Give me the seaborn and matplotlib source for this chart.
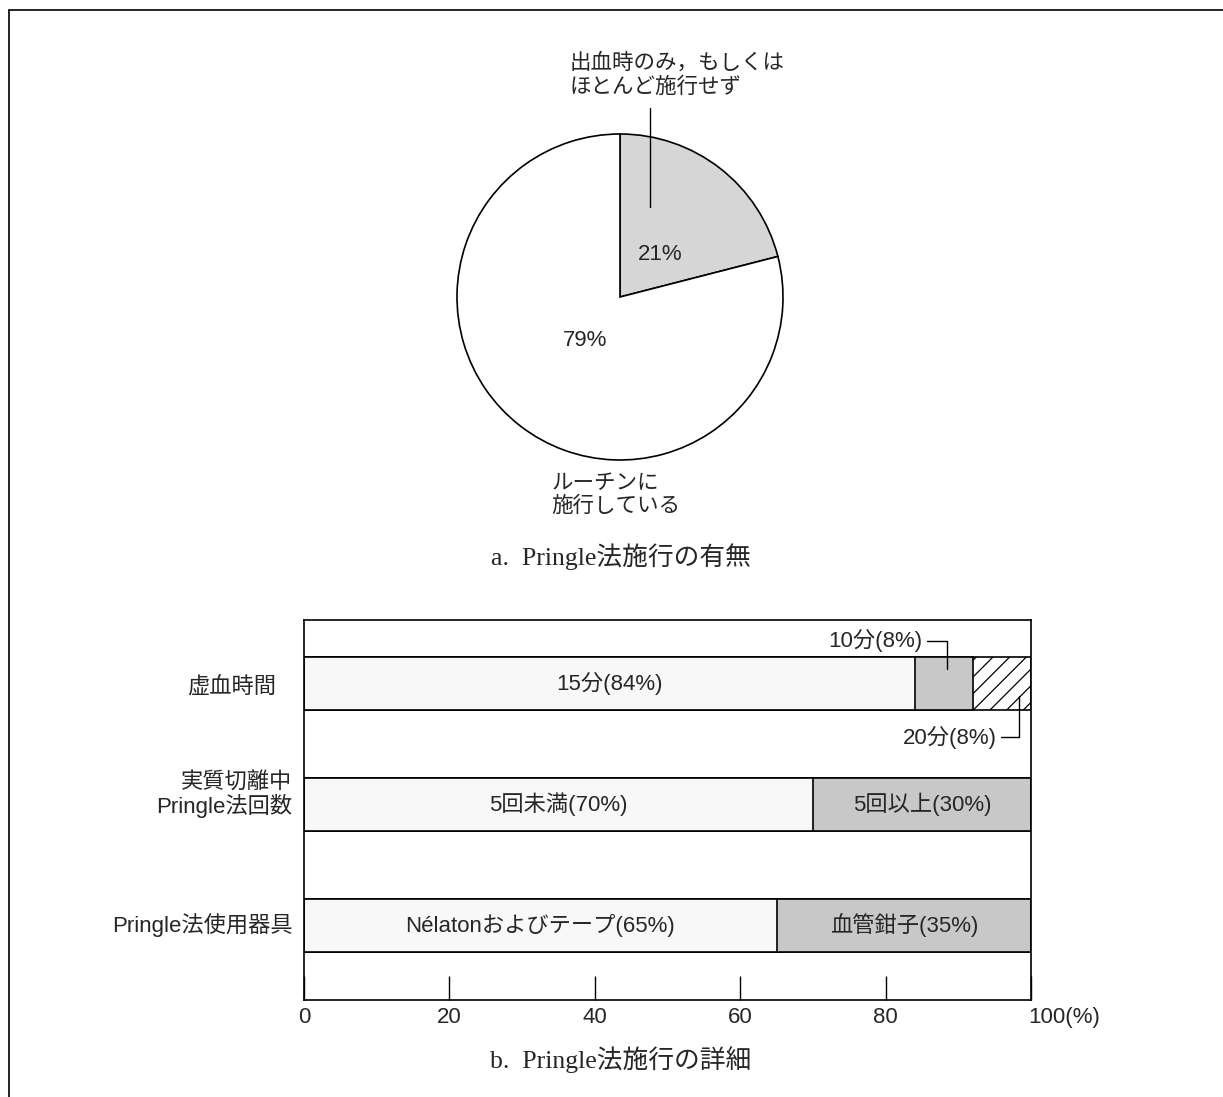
import matplotlib
matplotlib.use("Agg")
import matplotlib.pyplot as plt
from matplotlib.lines import Line2D
from matplotlib.transforms import ScaledTranslation
import seaborn as sns
import pandas as pd

sns.set_theme(style="white")
plt.rcParams['font.family'] = ['Liberation Sans', 'Noto Sans CJK JP', 'DejaVu Sans']
plt.rcParams['hatch.linewidth'] = 0.9
plt.rcParams['hatch.color'] = 'black'

# ---- data ----
pie_labels = ['出血時のみ，もしくは\nほとんど施行せず', 'ルーチンに\n施行している']
pie_values = [21, 79]

bar_categories = ['虚血時間', '実質切離中\nPringle法回数', 'Pringle法使用器具']
seg1_values = [84, 70, 65]
seg2_values = [8, 30, 35]
seg3_values = [8, 0, 0]
seg1_labels = ['15分(84%)', '5回未満(70%)', 'Nélatonおよびテープ(65%)']
seg2_labels = ['10分(8%)', '5回以上(30%)', '血管鉗子(35%)']
seg3_labels = ['20分(8%)', '', '']
x_ticks = [0, 20, 40, 60, 80, 100]
x_ticklabels = ['0', '20', '40', '60', '80', '100(%)']

W, H = 1223, 1097
fig = plt.figure(figsize=(W / 100, H / 100), dpi=100)
fig.patch.set_facecolor('white')

# outer frame (top and left edges)
fig.add_artist(Line2D([9 / W, 1.0], [1 - 10 / H, 1 - 10 / H], color='black', lw=1.2))
fig.add_artist(Line2D([9 / W, 9 / W], [1 - 10 / H, 0.0], color='black', lw=1.2))

serif_cjk = ['Liberation Serif', 'Noto Sans CJK JP']
LBL = 16

# ---- a. pie ----
cx, cy, r = 620, 297, 163
ax_pie = fig.add_axes([(cx - r) / W, 1 - (cy + r) / H, 2 * r / W, 2 * r / H])
ax_pie.pie(pie_values, startangle=90, counterclock=False,
           colors=['#d6d6d6', 'white'],
           wedgeprops=dict(edgecolor='black', linewidth=1.2))
ax_pie.set_xlim(-1, 1)
ax_pie.set_ylim(-1, 1)
ax_pie.set_aspect('equal')
ax_pie.axis('off')
ax_pie.text(0.245, 0.26, f'{pie_values[0]}%', ha='center', va='center', fontsize=16)
ax_pie.text(-0.215, -0.264, f'{pie_values[1]}%', ha='center', va='center', fontsize=16)
ax_pie.text(-0.31, 1.36, pie_labels[0], ha='left', va='center', fontsize=15.5,
            linespacing=1.15, clip_on=False)
ax_pie.plot([0.184, 0.184], [1.16, 0.55], color='black', lw=1.0, clip_on=False)
ax_pie.text(-0.42, -1.215, pie_labels[1], ha='left', va='center', fontsize=15.5,
            linespacing=1.15, clip_on=False)
fig.text(621 / W, 1 - 557 / H, 'a.  Pringle法施行の有無', ha='center', va='center',
         fontsize=18.5, family=serif_cjk)

# ---- b. stacked bars ----
left, right, top, bottom = 304, 1031, 620, 1000
ax = fig.add_axes([left / W, 1 - bottom / H, (right - left) / W, (bottom - top) / H])

df = pd.DataFrame({'cat': bar_categories, 's1': seg1_values,
                   's2': seg2_values, 's3': seg3_values})
df['c1'] = df['s1']
df['c2'] = df['s1'] + df['s2']
df['c3'] = df['c2'] + df['s3']

# cumulative layers, widest first so each shorter layer sits on top
bar_w = 0.44
edge = dict(edgecolor='black', linewidth=1.2)
order = bar_categories
sns.barplot(data=df, y='cat', x='c3', orient='h', order=order, color='white',
            width=bar_w, saturation=1, ax=ax, hatch='//', **edge)
sns.barplot(data=df, y='cat', x='c2', orient='h', order=order, color='#c8c8c8',
            width=bar_w, saturation=1, ax=ax, **edge)
sns.barplot(data=df, y='cat', x='c1', orient='h', order=order, color='#f8f8f8',
            width=bar_w, saturation=1, ax=ax, **edge)

ax.set_xlim(0, 100)
ax.set_ylim(2.62, -0.53)
ax.set_xlabel('')
ax.set_ylabel('')
ax.set_xticks(x_ticks)
ax.set_xticklabels(x_ticklabels, fontsize=16)
ax.set_yticks([])
ax.tick_params(axis='x', direction='in', length=17, width=1.0, color='black',
               bottom=True, pad=5)
last = ax.get_xticklabels()[-1]
last.set_horizontalalignment('left')
last.set_transform(last.get_transform() + ScaledTranslation(-3 / 100, 0, fig.dpi_scale_trans))
for sp in ax.spines.values():
    sp.set_visible(True)
    sp.set_color('black')
    sp.set_linewidth(1.2)

# in-bar labels
for i in range(len(bar_categories)):
    s1, s2 = seg1_values[i], seg2_values[i]
    ax.text(s1 / 2, i, seg1_labels[i], ha='center', va='center', fontsize=LBL)
    if seg3_values[i] == 0:
        ax.text(s1 + s2 / 2, i, seg2_labels[i], ha='center', va='center', fontsize=LBL)

# callouts for the narrow segments of the first bar
s1, s2, s3 = seg1_values[0], seg2_values[0], seg3_values[0]
x2 = s1 + s2 / 2 + 0.5
x3 = s1 + s2 + s3 / 2 + 2.4
ax.text(x2 - 3.4, -0.36, seg2_labels[0], ha='right', va='center', fontsize=LBL)
ax.plot([x2 - 2.8, x2, x2], [-0.36, -0.36, -0.12], color='black', lw=1.0)
ax.text(x3 - 3.1, 0.44, seg3_labels[0], ha='right', va='center', fontsize=LBL)
ax.plot([x3 - 2.5, x3, x3], [0.44, 0.44, 0.1], color='black', lw=1.0)

# category labels
ax.text(-9.9, 0.03, bar_categories[0], ha='center', va='center', fontsize=LBL,
        clip_on=False)
ax.text(-1.6, 0.92, bar_categories[1], ha='right', va='center', fontsize=LBL,
        linespacing=1.1, clip_on=False)
ax.text(-1.6, 2.0, bar_categories[2], ha='right', va='center', fontsize=LBL,
        clip_on=False)

fig.text(621 / W, 1 - 1060 / H, 'b.  Pringle法施行の詳細', ha='center', va='center',
         fontsize=18.5, family=serif_cjk)

fig.savefig('out.png', dpi=100, facecolor='white')
